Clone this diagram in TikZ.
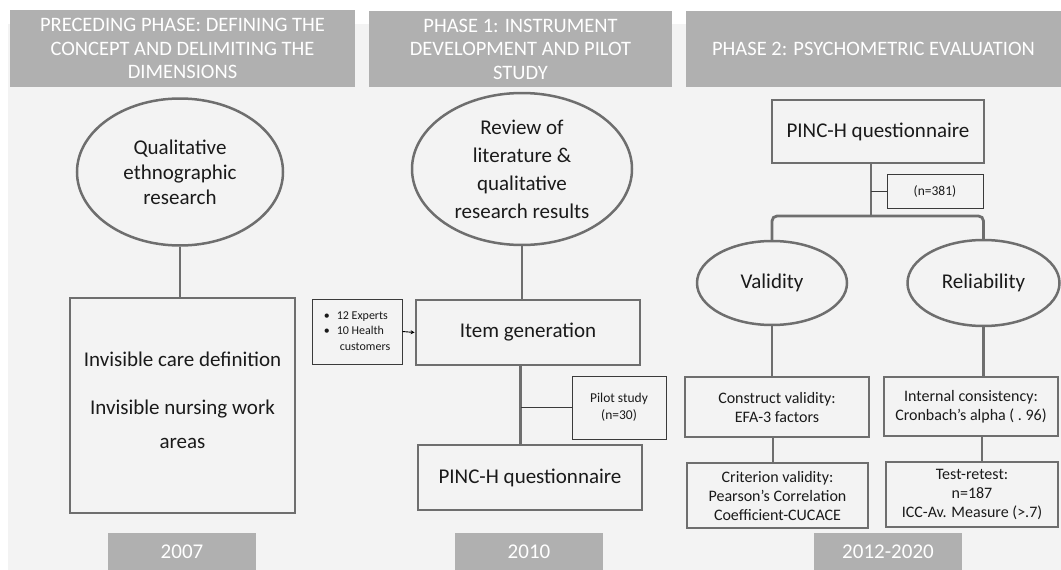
\documentclass[tikz,border=0pt]{standalone}
\usepackage{fontspec}
\setmainfont{Carlito}
\usetikzlibrary{shapes.geometric,arrows.meta}
\definecolor{bg}{HTML}{F3F3F3}
\definecolor{hdr}{HTML}{B0B0B0}
\definecolor{ln}{HTML}{6E6E6E}
\definecolor{thinln}{HTML}{3A3A3A}
\definecolor{txt}{HTML}{1A1A1A}
\tikzset{
  hdrbox/.style={fill=hdr, text=white, align=center, inner sep=0pt, font=\fontsize{20.5}{23.5}\selectfont},
  yearbox/.style={fill=hdr, text=white, inner sep=0pt, font=\fontsize{21}{22}\selectfont},
  bigbox/.style={draw=ln, line width=2.8pt, fill=bg, text=txt, align=center, inner sep=0pt, font=\fontsize{21}{25}\selectfont},
  plaintext/.style={text=txt, align=center, inner sep=0pt},
  midbox/.style={draw=ln, line width=2.6pt, fill=bg, text=txt, align=center, inner sep=0pt, font=\fontsize{16}{19}\selectfont},
  smallbox/.style={draw=thinln, line width=1pt, fill=bg, text=txt, align=center, inner sep=0pt, font=\fontsize{13.5}{17}\selectfont},
  ell/.style={ellipse, draw=ln, line width=2.5pt, fill=bg, text=txt, align=center, inner sep=0pt, font=\fontsize{21}{25}\selectfont},
  conn/.style={draw=ln, line width=2.8pt},
  thinconn/.style={draw=thinln, line width=1pt},
}
\begin{document}
\begin{tikzpicture}[x=1pt,y=-1pt]
\useasboundingbox (0,0) rectangle (1061,570);
% background
\fill[bg] (8,24) rectangle (1061,570);
% headers
\node[hdrbox, minimum width=345, minimum height=77] (h1) at (182.5,48.5) {PRECEDING PHASE: DEFINING THE\\CONCEPT AND DELIMITING THE\\DIMENSIONS};
\node[hdrbox, minimum width=303, minimum height=76] (h2) at (520.5,49) {PHASE 1: INSTRUMENT\\DEVELOPMENT AND PILOT\\STUDY};
\node[hdrbox, minimum width=375, minimum height=76] (h3) at (873.5,49) {PHASE 2: PSYCHOMETRIC EVALUATION};
% years
\node[yearbox, minimum width=148, minimum height=37] (y1) at (182,551.5) {2007};
\node[yearbox, minimum width=148, minimum height=37] (y2) at (529,551.5) {2010};
\node[yearbox, minimum width=148, minimum height=37] (y3) at (888,551.5) {2012-2020};

% left column
\node[ell, minimum width=206, minimum height=147] (e1) at (180,172) {Qualitative\\ethnographic\\research};
\node[bigbox, minimum width=225, minimum height=215] (b1) at (182.5,405.5) {};
\node[plaintext, font=\fontsize{21}{34}\selectfont] (b1t) at (182.5,400) {Invisible care definition\\[14pt]Invisible nursing work\\areas};
\draw[conn] (e1.south) -- (e1.south |- b1.north);

% middle column
\node[ell, minimum width=220, minimum height=152, font=\fontsize{21}{28}\selectfont] (e2) at (522,169) {Review of\\literature \&\\qualitative\\research results};
\node[bigbox, minimum width=224, minimum height=65] (item) at (528,332.5) {Item generation};
\node[bigbox, minimum width=224, minimum height=65] (p1) at (530,477.5) {PINC-H questionnaire};
\node[smallbox, minimum width=90, minimum height=65, font=\fontsize{12}{15.5}\selectfont, align=left] (exp) at (357,331.5) {\begin{tabular}{@{}l@{\hspace{7pt}}l@{}}\textbullet & 12 Experts\\ \textbullet & 10 Health\\ & \hspace{3pt}customers\end{tabular}};
\node[smallbox, minimum width=94, minimum height=63] (pilot) at (619,407.5) {Pilot study\\(n=30)};
\draw[conn] (e2.south) -- (e2.south |- item.north);
\coordinate (mstem) at (520.5,0);
\draw[conn] (mstem |- item.south) -- (mstem |- p1.north);
\draw[thinconn] (pilot.west) -- (pilot.west -| mstem);
\draw[draw=black, line width=0.9pt, -{Stealth[length=4pt,width=4pt]}] (exp.east) -- (item.west);

% right column
\node[bigbox, minimum width=212, minimum height=63] (p2) at (878,131.5) {PINC-H questionnaire};
\node[smallbox, minimum width=96, minimum height=34] (n381) at (935,191) {(n=381)};
\node[ell, minimum width=150, minimum height=84] (val) at (772,283) {Validity};
\node[ell, minimum width=152, minimum height=86] (rel) at (983.5,283) {Reliability};
\node[midbox, minimum width=184, minimum height=60] (cons) at (777,407) {Construct validity:\\EFA-3 factors};
\node[midbox, minimum width=174, minimum height=59] (intc) at (971,406.5) {Internal consistency:\\Cronbach’s alpha ( .~96)};
\node[midbox, minimum width=181, minimum height=65] (crit) at (777.5,495.5) {Criterion validity:\\Pearson’s Correlation\\Coefficient-CUCACE};
\node[midbox, minimum width=172, minimum height=65] (test) at (972,494.5) {Test-retest:\\n=187\\ICC-Av. Measure (>.7)};
\coordinate (rstem) at (871,0);
\coordinate (bar) at (0,216);
\draw[conn] (rstem |- p2.south) -- (rstem |- bar);
\draw[conn, rounded corners=5pt] (val.north) -- (val.north |- bar) -- (rel.north |- bar) -- (rel.north);
\draw[thinconn] (n381.west) -- (n381.west -| rstem);
\draw[conn] (val.south) -- (val.south |- cons.north);
\draw[conn] (rel.south) -- (rel.south |- intc.north);
\coordinate (vstem) at (773,0);
\coordinate (tstem) at (982,0);
\draw[conn] (vstem |- cons.south) -- (vstem |- crit.north);
\draw[conn] (tstem |- intc.south) -- (tstem |- test.north);
\end{tikzpicture}
\end{document}
